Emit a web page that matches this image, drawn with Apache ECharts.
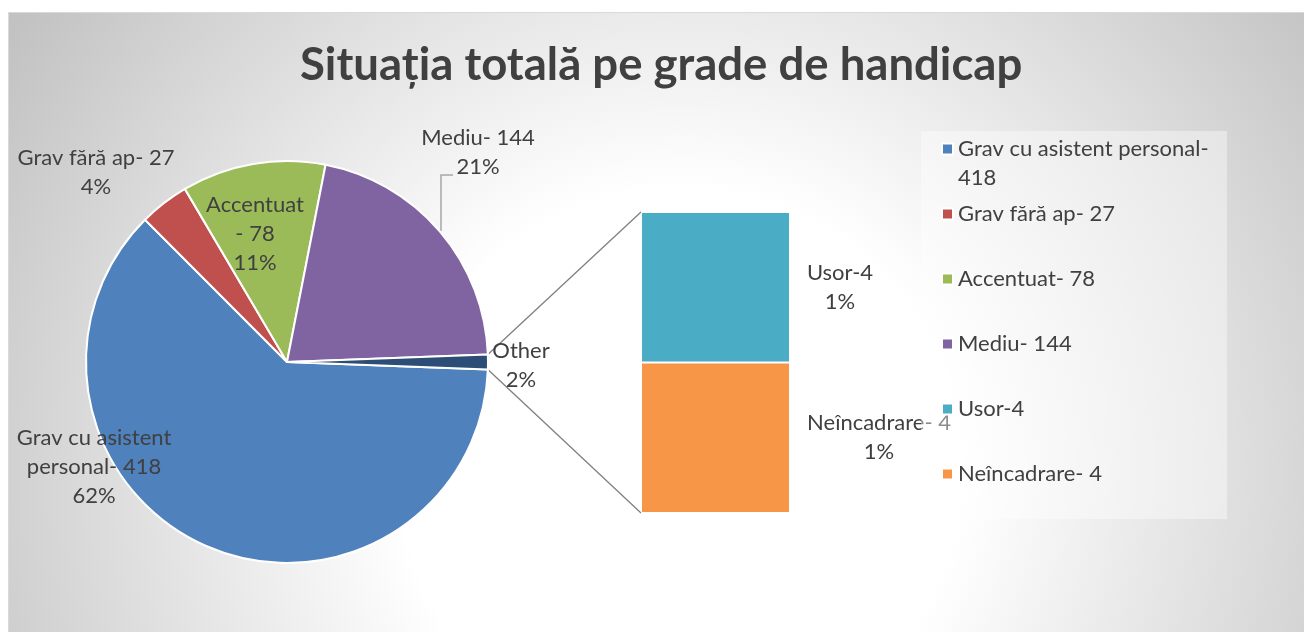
<!DOCTYPE html>
<html>
<head>
<meta charset="utf-8">
<title>Situația totală pe grade de handicap</title>
<script src="https://cdn.jsdelivr.net/npm/echarts@6/dist/echarts.min.js"></script>
<style>
  html, body { margin: 0; padding: 0; background: #fff; }
  #container { width: 1304px; height: 632px; }
</style>
</head>
<body>
<div id="container"></div>
<script>
// --- data ---
var pieNames = ['Grav cu asistent personal- 418', 'Grav fără ap- 27', 'Accentuat- 78', 'Mediu- 144'];
var pieValues = [418, 27, 78, 144];
var pieLabelText = ['Grav cu asistent\npersonal- 418', 'Grav fără ap- 27', 'Accentuat\n- 78', 'Mediu- 144'];
var piePct = ['62%', '4%', '11%', '21%'];
var otherName = 'Other';
var otherPct = '2%';
var barNames = ['Usor-4', 'Neîncadrare- 4'];
var barValues = [4, 4];
var barPct = ['1%', '1%'];

var pieColors = ['#4F81BD', '#C0504D', '#9BBB59', '#8064A2', '#2C4D75'];
var barColors = ['#4BACC6', '#F79646'];

// --- layout ---
var FONT = 'Lato';
var FS = 22;
var LH = 29;
var center = [287, 362];
var radius = 201;
var barGrid = { left: 641, top: 212, width: 149, height: 301 };
// label anchor points (centre of text block) for pie slices, Other last
var pieLabelPos = [[94, 467], [96, 172], [255, 234], [478, 152], [521, 365]];
var mediuLeader = [[441, 231], [441, 175], [453, 175]];

var otherValue = barValues.reduce(function (a, b) { return a + b; }, 0);
var total = pieValues.reduce(function (a, b) { return a + b; }, 0) + otherValue;
var halfOther = otherValue / total * Math.PI; // half the Other slice angle, radians

var pieData = [];
for (var i = 0; i < pieNames.length; i++) {
    pieData.push({
        name: pieNames[i],
        value: pieValues[i],
        itemStyle: { color: pieColors[i] },
        labelLine: { show: i === 3 },
        label: { formatter: pieLabelText[i] + '\n' + piePct[i] }
    });
}
pieData.push({
    name: otherName,
    value: otherValue,
    itemStyle: { color: pieColors[4] },
    labelLine: { show: false },
    label: { formatter: otherName + '\n' + otherPct }
});

var labelFont = { fontFamily: FONT, fontSize: FS, lineHeight: LH, color: '#404040' };

var dom = document.getElementById('container');
var myChart = echarts.init(dom, null, { renderer: 'canvas' });

// connector lines between the Other slice and the bar
var p1 = [center[0] + radius * Math.cos(halfOther), center[1] - radius * Math.sin(halfOther)];
var p2 = [center[0] + radius * Math.cos(halfOther), center[1] + radius * Math.sin(halfOther)];

var option = {
    backgroundColor: '#ffffff',
    animation: false,
    title: {
        text: 'Situația totală pe grade de handicap',
        left: 300,
        top: 37,
        padding: 0,
        textStyle: { fontFamily: FONT, fontSize: 45.5, fontWeight: 'bold', color: '#404040', lineHeight: 56 }
    },
    graphic: [
        {
            type: 'rect', z: -10, silent: true,
            shape: { x: 8.5, y: 12.5, width: 1300, height: 625 },
            style: {
                stroke: '#d9d9d9', lineWidth: 1,
                fill: {
                    type: 'radial', x: 680, y: 470, r: 800, global: true,
                    colorStops: [
                        { offset: 0, color: '#ffffff' },
                        { offset: 0.35, color: '#ffffff' },
                        { offset: 1, color: '#c2c2c2' }
                    ]
                }
            }
        },
        {
            type: 'line', z: 1, silent: true,
            shape: { x1: p1[0], y1: p1[1], x2: barGrid.left, y2: barGrid.top },
            style: { stroke: '#808080', lineWidth: 1.3 }
        },
        {
            type: 'line', z: 1, silent: true,
            shape: { x1: p2[0], y1: p2[1], x2: barGrid.left, y2: barGrid.top + barGrid.height },
            style: { stroke: '#808080', lineWidth: 1.3 }
        },
        {
            type: 'rect', z: 3, silent: true,
            shape: { x: 921, y: 131, width: 306, height: 388 },
            style: { fill: 'rgba(255,255,255,0.4)' }
        }
    ],
    legend: [
        {
            orient: 'vertical', left: 941, top: 105.5, padding: 0,
            itemWidth: 11, itemHeight: 11, icon: 'rect',
            selectedMode: false,
            data: [pieNames[0]],
            // empty first line keeps the icon level with the first text line
            formatter: function () { return '{e| }\n{a|Grav cu asistent personal-}\n{a|418}'; },
            textStyle: {
                fontFamily: FONT, fontSize: FS, lineHeight: LH, color: '#404040',
                rich: {
                    e: { fontFamily: FONT, fontSize: FS, lineHeight: LH },
                    a: { fontFamily: FONT, fontSize: FS, lineHeight: LH, color: '#404040' }
                }
            }
        },
        {
            orient: 'vertical', left: 941, top: 199.5, padding: 0,
            itemWidth: 11, itemHeight: 11, icon: 'rect', itemGap: 36,
            selectedMode: false,
            data: pieNames.slice(1).concat(barNames),
            textStyle: { fontFamily: FONT, fontSize: FS, lineHeight: LH, color: '#404040' }
        }
    ],
    grid: {
        left: barGrid.left, top: barGrid.top, width: barGrid.width, height: barGrid.height,
        containLabel: false
    },
    xAxis: { type: 'category', data: ['x'], show: false },
    yAxis: { type: 'value', min: 0, max: otherValue, show: false },
    series: [
        {
            type: 'pie',
            center: center,
            radius: radius,
            startAngle: -halfOther * 180 / Math.PI,
            clockwise: true,
            avoidLabelOverlap: false,
            itemStyle: { borderColor: '#ffffff', borderWidth: 2 },
            label: Object.assign({ show: true, position: 'outside', align: 'center' }, labelFont),
            labelLine: { lineStyle: { color: '#a6a6a6', width: 1.5 } },
            labelLayout: function (params) {
                var p = pieLabelPos[params.dataIndex];
                var res = { x: p[0], y: p[1], align: 'center', verticalAlign: 'middle' };
                if (params.dataIndex === 3) res.labelLinePoints = mediuLeader;
                return res;
            },
            emphasis: { disabled: true },
            data: pieData
        },
        {
            name: barNames[1],
            type: 'bar',
            stack: 'other',
            barWidth: '100%',
            itemStyle: { color: barColors[1], borderColor: '#ffffff', borderWidth: 1 },
            label: Object.assign({
                show: true, position: 'right', distance: 89, align: 'center',
                formatter: barNames[1] + '\n' + barPct[1]
            }, labelFont),
            emphasis: { disabled: true },
            data: [barValues[1]]
        },
        {
            name: barNames[0],
            type: 'bar',
            stack: 'other',
            barWidth: '100%',
            itemStyle: { color: barColors[0], borderColor: '#ffffff', borderWidth: 1 },
            label: Object.assign({
                show: true, position: 'right', distance: 50, align: 'center',
                formatter: barNames[0] + '\n' + barPct[0]
            }, labelFont),
            emphasis: { disabled: true },
            data: [barValues[0]]
        }
    ]
};

myChart.setOption(option);
</script>
</body>
</html>
